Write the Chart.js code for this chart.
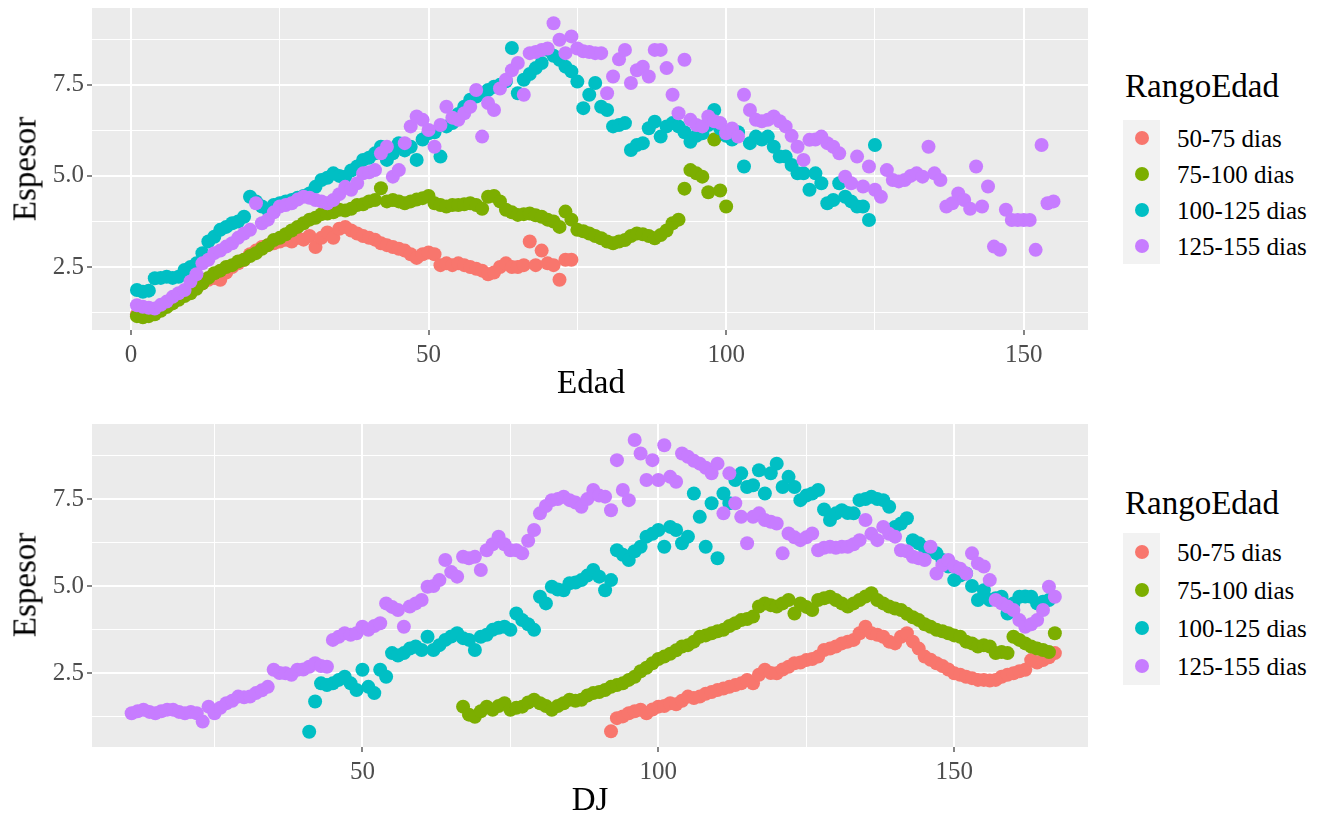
<!DOCTYPE html>
<html><head><meta charset="utf-8">
<script src="https://cdn.jsdelivr.net/npm/chart.js@4.4.0/dist/chart.umd.min.js"></script>
<style>
html,body{margin:0;padding:0;background:#fff;width:1336px;height:815px;overflow:hidden;font-family:"Liberation Serif","Times New Roman",serif;}
canvas{position:absolute;left:0;}
.t{position:absolute;white-space:nowrap;color:#000;line-height:1;font-family:"Liberation Serif","Times New Roman",serif;}
.key{position:absolute;background:#F2F2F2;}
.dot{position:absolute;border-radius:50%;}
</style></head><body>
<canvas id="c1" width="1100" height="410" style="top:0;width:1100px;height:410px"></canvas>
<canvas id="c2" width="1100" height="401" style="top:414px;width:1100px;height:401px"></canvas>
<div id="overlay"></div>
<script>
// ---- categories / legend ----
const SERIES = ['50-75 dias', '75-100 dias', '100-125 dias', '125-155 dias'];
const COLORS = ['#F8766D', '#7CAE00', '#00BFC4', '#C77CFF'];
const LEGEND_TITLE = 'RangoEdad';
const Y_TITLE = 'Espesor';
const X_TITLE_TOP = 'Edad';
const X_TITLE_BOTTOM = 'DJ';

// ---- tick labels ----
const yMajor = [2.5, 5.0, 7.5];
const yMajorLabels = ['2.5', '5.0', '7.5'];
const yMinor = [1.25, 3.75, 6.25, 8.75];
const xTopMajor = [0, 50, 100, 150];
const xTopMajorLabels = ['0', '50', '100', '150'];
const xTopMinor = [25, 75, 125];
const xBotMajor = [50, 100, 150];
const xBotMajorLabels = ['50', '100', '150'];
const xBotMinor = [25, 75, 125];

// ---- top panel: Espesor by Edad (first day of each series) ----
const edadStart = [1, 1, 1, 1];
const edad50_75 = [1.2,1.15,1.2,1.25,1.35,1.45,1.55,1.7,1.8,1.9, 2.0,2.05,2.15,2.2,2.15,2.35,2.5,2.6,2.7,2.85, 2.95,3.05,3.1,3.15,3.2,3.25,3.2,3.3,3.25,3.35, 3.05,3.3,3.45,3.3,3.55,3.6,3.5,3.42,3.35,3.3, 3.25,3.15,3.1,3.05,3.0,2.95,2.85,2.75,2.85,2.9, 2.85,2.55,2.6,2.55,2.6,2.55,2.5,2.45,2.4,2.3, 2.35,2.5,2.6,2.5,2.5,2.55,3.2,2.55,2.95,2.6, 2.55,2.15,2.7,2.7];
const edad75_100 = [1.15,1.12,1.15,1.2,1.3,1.4,1.5,1.6,1.7,1.78, 1.9,2.05,2.2,2.33,2.4,2.5,2.55,2.65,2.7,2.8, 2.88,3.0,3.1,3.24,3.3,3.4,3.5,3.6,3.7,3.8, 3.85,3.95,3.97,4.0,4.07,4.05,4.1,4.2,4.22,4.3, 4.34,4.66,4.3,4.34,4.3,4.25,4.3,4.35,4.39,4.45, 4.25,4.2,4.16,4.2,4.2,4.22,4.25,4.2,4.1,4.43, 4.45,4.3,4.07,4.0,3.93,3.95,3.97,3.92,3.88,3.8, 3.75,3.6,4.02,3.8,3.52,3.48,3.42,3.35,3.29,3.2, 3.15,3.2,3.24,3.35,3.42,3.4,3.35,3.29,3.38,3.5, 3.7,3.8,4.65,5.16,5.07,4.98,4.55,6.0,4.6,4.16];
const edad100_125 = [1.87,1.82,1.85,2.19,2.2,2.23,2.2,2.23,2.42,2.5, 2.6,2.88,3.2,3.33,3.52,3.6,3.7,3.75,3.88,4.43, 4.3,4.16,4.07,4.2,4.25,4.3,4.34,4.4,4.45,4.52, 4.7,4.89,4.95,5.07,5.0,4.98,5.15,5.26,5.44,5.5, 5.62,5.8,5.44,5.62,5.9,5.7,5.8,5.44,6.0,6.17, 6.2,5.53,6.36,6.45,6.7,6.9,7.09,7.18,7.25,7.36, 7.45,7.5,7.6,8.51,7.27,7.64,7.8,7.96,8.1,8.46, 8.3,8.19,8.0,7.87,7.59,6.86,7.23,7.55,6.9,6.81, 6.36,6.4,6.45,5.71,5.85,5.9,6.31,6.49,6.08,6.36, 6.45,6.36,6.2,5.94,6.1,6.17,6.4,6.81,6.3,6.1, 6.0,6.2,5.26,5.9,6.08,6.0,6.08,5.8,5.53,5.53, 5.3,5.07,5.07,4.62,5.07,4.8,4.25,4.34,4.8,4.43, 4.3,4.16,4.16,3.79,5.85];
const edad125_155 = [1.45,1.41,1.38,1.36,1.46,1.55,1.68,1.78,1.87,2.1, 2.3,2.6,2.7,2.88,2.95,3.06,3.15,3.3,3.42,3.52, 4.25,3.7,3.8,4.0,4.16,4.2,4.25,4.35,4.43,4.4, 4.34,4.3,4.25,4.34,4.5,4.7,4.62,4.8,5.07,5.1, 5.16,5.62,5.8,4.98,5.16,5.9,6.36,6.63,6.54,6.26, 5.8,6.4,6.9,6.6,6.54,6.72,6.9,7.36,6.08,7.0, 6.81,7.4,7.64,7.9,8.1,7.23,8.37,8.4,8.46,8.5, 9.19,8.74,8.37,8.83,8.5,8.42,8.4,8.37,8.37,7.27, 7.73,8.2,8.46,7.55,7.9,8.0,7.73,8.46,8.46,7.96, 7.23,6.72,8.19,6.54,6.4,6.36,6.63,6.5,6.45,6.17, 6.3,6.08,7.23,6.81,6.54,6.5,6.54,6.63,6.5,6.36, 6.1,5.8,5.44,5.99,6.0,6.08,5.9,5.8,5.62,4.98, 4.8,5.53,4.71,5.26,4.62,4.43,5.16,4.89,4.85,4.89, 5.0,5.07,4.98,5.8,5.07,4.89,4.16,4.25,4.52,4.34, 4.1,5.26,4.16,4.71,3.06,2.97,4.07,3.79,3.79,3.79, 3.79,2.97,5.85,4.25,4.3];

// ---- bottom panel: Espesor by DJ (first day of each series) ----
const djStart = [92, 67, 41, 11];
const dj50_75 = [0.82,1.2,1.25,1.34,1.4,1.44,1.34,1.45,1.53,1.55, 1.63,1.6,1.7,1.82,1.78,1.82,1.9,1.95,2.01,2.05, 2.1,2.15,2.2,2.3,2.2,2.45,2.59,2.5,2.49,2.6, 2.68,2.78,2.8,2.87,2.9,2.97,3.16,3.2,3.26,3.35, 3.4,3.45,3.64,3.83,3.64,3.6,3.54,3.4,3.35,3.54, 3.64,3.4,3.2,2.97,2.88,2.78,2.7,2.6,2.49,2.45, 2.39,2.35,2.3,2.3,2.28,2.3,2.39,2.45,2.49,2.55, 2.59,2.87,2.8,2.87,2.95,3.07];
const dj75_100 = [1.53,1.3,1.24,1.4,1.53,1.44,1.55,1.63,1.44,1.5, 1.53,1.65,1.73,1.63,1.55,1.44,1.55,1.63,1.73,1.7, 1.73,1.85,1.92,1.95,2.01,2.1,2.15,2.2,2.3,2.39, 2.55,2.65,2.78,2.9,2.97,3.05,3.15,3.26,3.3,3.4, 3.54,3.58,3.64,3.7,3.74,3.85,3.93,4.02,4.05,4.12, 4.41,4.5,4.45,4.41,4.5,4.6,4.21,4.5,4.4,4.31, 4.6,4.65,4.69,4.6,4.5,4.41,4.5,4.6,4.7,4.79, 4.6,4.5,4.41,4.35,4.31,4.2,4.1,4.02,3.9,3.83, 3.74,3.7,3.64,3.58,3.54,3.4,3.35,3.26,3.3,3.26, 3.07,3.1,3.07,3.54,3.45,3.35,3.26,3.2,3.16,3.1, 3.64];
const dj100_125 = [0.81,1.68,2.2,2.15,2.2,2.3,2.39,2.2,2.01,2.59, 2.1,1.92,2.59,2.39,3.07,3.0,3.07,3.2,3.26,3.16, 3.54,3.16,3.3,3.45,3.55,3.64,3.5,3.45,3.16,3.54, 3.6,3.74,3.8,3.83,3.74,4.21,4.02,3.9,3.74,4.69, 4.5,4.98,4.9,4.88,5.08,5.1,5.17,5.3,5.46,5.27, 4.88,5.17,6.03,5.9,5.75,6.0,6.13,6.42,6.5,6.61, 6.13,6.7,6.61,6.23,6.42,7.66,6.99,6.13,7.38,5.8, 7.66,7.38,8.05,8.24,7.85,7.9,8.33,7.66,8.24,8.52, 7.85,8.14,7.85,7.47,7.6,7.66,7.76,7.2,6.9,7.09, 7.18,7.1,7.09,7.47,7.5,7.57,7.5,7.47,7.28,6.7, 6.8,6.95,6.32,6.23,6.1,6.03,5.94,5.75,5.56,5.17, 5.3,5.36,5.0,4.6,4.88,4.6,4.65,4.69,4.21,4.5, 4.69,4.7,4.69,4.5,4.55,4.6];
const dj125_155 = [1.34,1.4,1.44,1.38,1.34,1.4,1.44,1.44,1.38,1.34, 1.38,1.34,1.1,1.53,1.34,1.5,1.63,1.7,1.82,1.8, 1.82,1.92,2.0,2.1,2.59,2.5,2.49,2.45,2.59,2.6, 2.68,2.78,2.7,2.68,3.45,3.54,3.64,3.6,3.64,3.83, 3.74,3.85,3.93,4.5,4.4,4.31,3.83,4.41,4.5,4.6, 4.98,5.0,5.17,5.75,5.4,5.27,5.84,5.8,5.84,5.46, 6.03,6.2,6.42,6.2,6.03,6.03,5.94,6.3,6.61,7.09, 7.3,7.47,7.5,7.57,7.47,7.4,7.28,7.5,7.76,7.6, 7.57,7.18,8.62,7.76,7.47,9.2,8.81,8.05,8.62,8.05, 9.05,8.14,8.0,8.81,8.72,8.6,8.52,8.4,8.24,8.52, 7.09,8.24,7.38,6.99,6.23,6.99,7.09,6.9,6.85,6.8, 5.94,6.51,6.4,6.32,6.4,6.51,6.03,6.1,6.13,6.1, 6.13,6.13,6.2,6.32,6.9,6.5,6.32,6.7,6.5,6.42, 6.03,6.0,5.84,5.8,5.75,6.13,5.36,5.6,5.75,5.56, 5.5,5.36,5.94,5.65,5.56,5.17,4.6,4.5,4.41,4.31, 4.02,3.83,3.9,4.02,4.31,4.98,4.69];

// ---- styling ----
const FONT = '"Liberation Serif", "Times New Roman", serif';
const DRAW_ORDER = [4, 3, 2, 1]; // purple drawn on top
const POINT_R = 7;

const panelBg = {
  id: 'panelBg',
  beforeDraw(chart) {
    const { ctx, chartArea: a } = chart;
    ctx.save();
    ctx.fillStyle = '#EBEBEB';
    ctx.fillRect(a.left, a.top, a.right - a.left, a.bottom - a.top);
    ctx.restore();
  }
};

function axis(opts) {
  const labelOf = new Map(opts.major.map((v, i) => [v, opts.labels[i]]));
  const all = opts.major.concat(opts.minor).sort((a, b) => a - b);
  const isMajor = v => labelOf.has(v);
  return {
    type: 'linear', position: opts.position, min: opts.min, max: opts.max,
    afterBuildTicks: s => { s.ticks = all.map(v => ({ value: v })); },
    afterFit: s => {
      if (opts.position === 'left') s.width = opts.size; else s.height = opts.size;
      s.paddingTop = 0; s.paddingBottom = 0; s.paddingLeft = 0; s.paddingRight = 0;
    },
    border: { display: false },
    grid: {
      color: '#FFFFFF',
      lineWidth: c => (c.tick && isMajor(c.tick.value)) ? 2 : 1,
      drawTicks: true, tickLength: 5, tickWidth: 1.2,
      tickColor: c => (c.tick && isMajor(c.tick.value)) ? '#333333' : 'rgba(0,0,0,0)'
    },
    ticks: {
      autoSkip: false, maxRotation: 0, minRotation: 0,
      padding: opts.position === 'left' ? 3 : 5,
      color: '#4D4D4D', font: { family: FONT, size: 25 },
      callback: v => labelOf.has(v) ? labelOf.get(v) : ''
    }
  };
}

function makePanel(id, starts, ys, xr, yr, xMajor, xLabels, xMinor, xAxisH, padTop) {
  const datasets = SERIES.map((name, k) => ({
    label: name,
    data: ys[k].map((v, i) => ({ x: starts[k] + i, y: v })),
    backgroundColor: COLORS[k], borderWidth: 0, pointRadius: POINT_R,
    pointHoverRadius: POINT_R, order: DRAW_ORDER[k]
  }));
  return new Chart(document.getElementById(id), {
    type: 'scatter',
    data: { datasets },
    plugins: [panelBg],
    options: {
      responsive: false, animation: false, devicePixelRatio: 1,
      layout: { padding: { top: padTop, right: 12, left: 0, bottom: 0 } },
      plugins: { legend: { display: false }, tooltip: { enabled: false } },
      scales: {
        x: axis({ position: 'bottom', min: xr[0], max: xr[1], major: xMajor, labels: xLabels, minor: xMinor, size: xAxisH }),
        y: axis({ position: 'left', min: yr[0], max: yr[1], major: yMajor, labels: yMajorLabels, minor: yMinor, size: 92 })
      }
    }
  });
}

makePanel('c1', edadStart, [edad50_75, edad75_100, edad100_125, edad125_155],
  [-6.55, 160.8], [0.77, 9.61], xTopMajor, xTopMajorLabels, xTopMinor, 80, 8);
makePanel('c2', djStart, [dj50_75, dj75_100, dj100_125, dj125_155],
  [4.3, 172.6], [0.37, 9.66], xBotMajor, xBotMajorLabels, xBotMinor, 68, 10);

// ---- HTML text: axis titles and legends ----
const ov = document.getElementById('overlay');
function text(str, cx, cy, size, rot) {
  const d = document.createElement('div');
  d.className = 't';
  d.textContent = str;
  d.style.fontSize = size + 'px';
  d.style.left = cx + 'px';
  d.style.top = cy + 'px';
  d.style.transform = 'translate(-50%,-50%)' + (rot ? ' rotate(' + rot + 'deg)' : '');
  ov.appendChild(d);
}
function leftText(str, x, cy, size) {
  const d = document.createElement('div');
  d.className = 't';
  d.textContent = str;
  d.style.fontSize = size + 'px';
  d.style.left = x + 'px';
  d.style.top = (cy - size / 2) + 'px';
  ov.appendChild(d);
}
text(Y_TITLE, 25, 169, 33, -90);
text(Y_TITLE, 25, 585, 33, -90);
text(X_TITLE_TOP, 591, 382, 33, 0);
text(X_TITLE_BOTTOM, 590, 799, 33, 0);

function legend(titleCy, rows) {
  leftText(LEGEND_TITLE, 1125, titleCy, 33);
  const step = rows[1] - rows[0];
  const k = document.createElement('div');
  k.className = 'key';
  k.style.left = '1123px'; k.style.width = '37px';
  k.style.top = (rows[0] - step / 2) + 'px';
  k.style.height = (step * rows.length) + 'px';
  ov.appendChild(k);
  SERIES.forEach((s, i) => {
    const d = document.createElement('div');
    d.className = 'dot';
    d.style.background = COLORS[i];
    d.style.width = d.style.height = (POINT_R * 2) + 'px';
    d.style.left = (1141.5 - POINT_R) + 'px';
    d.style.top = (rows[i] - POINT_R) + 'px';
    ov.appendChild(d);
    leftText(s, 1177, rows[i], 25);
  });
}
legend(86, [138, 174, 210, 246]);
legend(503, [552, 590, 628, 666]);
</script>
</body></html>
